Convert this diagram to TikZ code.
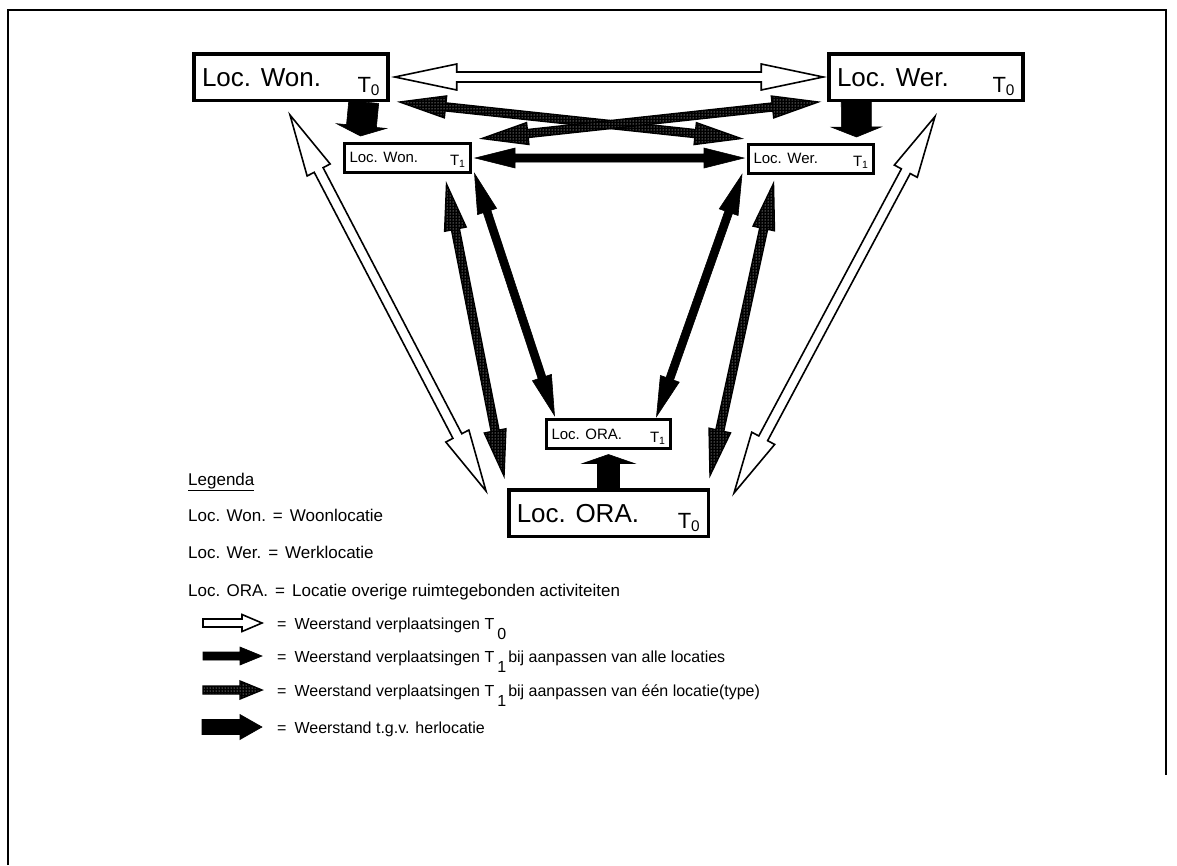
\documentclass[tikz,border=0pt]{standalone}
\usepackage{fontspec}
\setmainfont{Liberation Sans}
\usetikzlibrary{calc,patterns}

% box contents: name left, time index bottom right
\newcommand{\locbig}[3]{\makebox[#3]{#1\hfill\raisebox{-6pt}{\fontsize{22}{24}\selectfont T\textsubscript{#2}}}}
\newcommand{\locsmall}[3]{\makebox[#3]{#1\hfill\raisebox{-3pt}{T\textsubscript{#2}}}}

% arrow with two heads: style, from, to, shaft, head, head length
\newcommand{\twoway}[6]{%
  \coordinate (twa) at ($(#2)!#6!(#3)$);
  \coordinate (twb) at ($(#3)!#6!(#2)$);
  \draw[#1] (#2) -- ($(twa)!#5!90:(#3)$) -- ($(twa)!#4!90:(#3)$)
    -- ($(twb)!#4!-90:(#2)$) -- ($(twb)!#5!-90:(#2)$) -- (#3)
    -- ($(twb)!#5!90:(#2)$) -- ($(twb)!#4!90:(#2)$)
    -- ($(twa)!#4!-90:(#3)$) -- ($(twa)!#5!-90:(#3)$) -- cycle;}
% arrow with one head
\newcommand{\oneway}[6]{%
  \coordinate (twa) at ($(#3)!#6!(#2)$);
  \draw[#1] ($(#2)!#4!90:(#3)$) -- ($(twa)!#4!90:(#3)$) -- ($(twa)!#5!90:(#3)$) -- (#3)
    -- ($(twa)!#5!-90:(#3)$) -- ($(twa)!#4!-90:(#3)$) -- ($(#2)!#4!-90:(#3)$) -- cycle;}

\begin{document}
\begin{tikzpicture}[x=1pt,y=-1pt,
  bigloc/.style={draw,line width=3.5pt,minimum height=46.5pt,inner xsep=8pt,inner ysep=0pt,
    text height=20pt,text depth=2pt,font=\fontsize{26}{28}\selectfont},
  smallloc/.style={draw,line width=3pt,minimum height=29pt,inner xsep=5pt,inner ysep=0pt,
    text height=11pt,text depth=1pt,font=\fontsize{15}{17}\selectfont},
  legtxt/.style={anchor=base west,inner sep=0pt,font=\fontsize{17}{19}\selectfont},
  rowtxt/.style={legtxt,font=\fontsize{16}{18}\selectfont},
  hollow/.style={draw=black,line width=1.6pt,fill=white,line join=miter},
  solidarr/.style={draw=black,fill=black,line width=0.6pt,line join=miter},
  dotarr/.style={preaction={fill=black},pattern=dots,pattern color=white,
    draw=black,line width=1.4pt,line join=miter}]

  \useasboundingbox (0,0) rectangle (1177,865);

  % page frame
  \draw[line width=1.5pt] (8,865) -- (8,10) -- (1166,10) -- (1166,775);

  % ================= locations =================
  \node[bigloc] (won0) at (291,77) {\locbig{Loc. Won.}{0}{178pt}};
  \node[bigloc] (wer0) at (926,77) {\locbig{Loc. Wer.}{0}{178pt}};
  \node[bigloc] (ora0) at (608.5,513) {\locbig{Loc. ORA.}{0}{183.5pt}};
  \node[smallloc] (won1) at (407.5,157.5) {\locsmall{Loc. Won.}{1}{116pt}};
  \node[smallloc] (wer1) at (811,158.5) {\locsmall{Loc. Wer.}{1}{115pt}};
  \node[smallloc] (ora1) at (608.5,434) {\locsmall{Loc. ORA.}{1}{114pt}};

  % ================= end points =================
  \coordinate (wonE) at ($(won0.east)+(5,0)$);
  \coordinate (werW) at ($(wer0.west)+(-4,0)$);
  \coordinate (wonSE) at ($(won0.south east)+(10,0)$);
  \coordinate (wer1NW) at ($(wer1.north west)+(-6,-4)$);
  \coordinate (won1NE) at ($(won1.north east)+(10,-3)$);
  \coordinate (werSW) at ($(wer0.south west)+(-9,0)$);
  \coordinate (won1E) at ($(won1.east)+(3,0.5)$);
  \coordinate (wer1W) at ($(wer1.west)+(-3,-0.5)$);
  \coordinate (wonS) at ($(won0.south)+(-1,13)$);
  \coordinate (oraNWa) at ($(ora0.north west)+(-21,3)$);
  \coordinate (won1Sa) at ($(won1.south east)+(-25.5,10.5)$);
  \coordinate (oraNWb) at ($(ora0.north west)+(-3,-12)$);
  \coordinate (won1Sb) at ($(won1.south east)+(2.5,0)$);
  \coordinate (ora1NW) at ($(ora1.north west)+(9.5,-2.5)$);
  \coordinate (wer1Sb) at ($(wer1.south west)+(-5,0)$);
  \coordinate (ora1NE) at ($(ora1.north east)+(-15.5,-1.5)$);
  \coordinate (wer1Sa) at ($(wer1.south west)+(26.5,9)$);
  \coordinate (oraNEb) at ($(ora0.north east)+(0,-12.5)$);
  \coordinate (werS) at ($(wer0.south)+(9,14.5)$);
  \coordinate (oraNEa) at ($(ora0.north east)+(24,5)$);
  \coordinate (wonDn) at ($(won0.south east)+(-26,0)$);
  \coordinate (won1Up) at ($(won1.north west)+(17.5,-5.5)$);
  \coordinate (werDn) at ($(wer0.south west)+(29,0)$);
  \coordinate (wer1Up) at ($(wer1.north west)+(109.5,-5.5)$);
  \coordinate (oraUp) at (ora0.north);
  \coordinate (ora1Dn) at ($(ora1.south)+(0,4.5)$);

  % ================= connectors =================
  \twoway{hollow}{wonE}{werW}{5pt}{13pt}{62pt}
  \twoway{dotarr}{wonSE}{wer1NW}{4pt}{11pt}{46pt}
  \twoway{dotarr}{won1NE}{werSW}{4pt}{11pt}{46pt}
  \twoway{solidarr}{won1E}{wer1W}{4pt}{10pt}{40pt}

  \twoway{hollow}{wonS}{oraNWa}{5pt}{13pt}{62pt}
  \twoway{dotarr}{won1Sa}{oraNWb}{4pt}{11pt}{46pt}
  \twoway{solidarr}{won1Sb}{ora1NW}{4pt}{10pt}{40pt}

  \twoway{solidarr}{wer1Sb}{ora1NE}{4pt}{10pt}{40pt}
  \twoway{dotarr}{wer1Sa}{oraNEb}{4pt}{11pt}{46pt}
  \twoway{hollow}{werS}{oraNEa}{5pt}{13pt}{62pt}

  % relocation
  \oneway{solidarr}{wonDn}{won1Up}{15pt}{25pt}{10pt}
  \oneway{solidarr}{werDn}{wer1Up}{15pt}{25pt}{10pt}
  \oneway{solidarr}{oraUp}{ora1Dn}{11pt}{26pt}{9pt}

  % ================= legend =================
  \node[legtxt] (legend) at (188,485) {\underline{Legenda}};
  \node[legtxt] (legwon) at (188,521) {Loc. Won.\hspace{7pt}=\hspace{7pt}Woonlocatie};
  \node[legtxt] (legwer) at (188,558) {Loc. Wer.\hspace{7pt}=\hspace{7pt}Werklocatie};
  \node[legtxt] (legora) at (188,596) {Loc. ORA.\hspace{7pt}=\hspace{7pt}Locatie overige ruimtegebonden activiteiten};
  \node[rowtxt] (leg0) at (277,629) {=\hspace{8pt}Weerstand verplaatsingen T\hspace{3pt}\raisebox{-10pt}{0}};
  \node[rowtxt] (leg1) at (277,662) {=\hspace{8pt}Weerstand verplaatsingen T\hspace{3pt}\raisebox{-10pt}{1}\hspace{2pt}bij aanpassen van alle locaties};
  \node[rowtxt] (leg2) at (277,696) {=\hspace{8pt}Weerstand verplaatsingen T\hspace{3pt}\raisebox{-10pt}{1}\hspace{2pt}bij aanpassen van één locatie(type)};
  \node[rowtxt] (leg3) at (277,733) {=\hspace{8pt}Weerstand t.g.v. herlocatie};

  \coordinate (l0a) at ($(leg0.base west)+(-74,-6)$);
  \coordinate (l0b) at ($(leg0.base west)+(-15,-6)$);
  \coordinate (l1a) at ($(leg1.base west)+(-74,-6)$);
  \coordinate (l1b) at ($(leg1.base west)+(-15,-6)$);
  \coordinate (l2a) at ($(leg2.base west)+(-74,-6)$);
  \coordinate (l2b) at ($(leg2.base west)+(-15,-6)$);
  \coordinate (l3a) at ($(leg3.base west)+(-75,-6)$);
  \coordinate (l3b) at ($(leg3.base west)+(-15,-6)$);

  \oneway{hollow}{l0a}{l0b}{4pt}{8.5pt}{20pt}
  \oneway{solidarr}{l1a}{l1b}{4pt}{9pt}{22pt}
  \oneway{dotarr}{l2a}{l2b}{4pt}{9pt}{22pt}
  \oneway{solidarr}{l3a}{l3b}{7.5pt}{12.5pt}{22pt}
\end{tikzpicture}
\end{document}
